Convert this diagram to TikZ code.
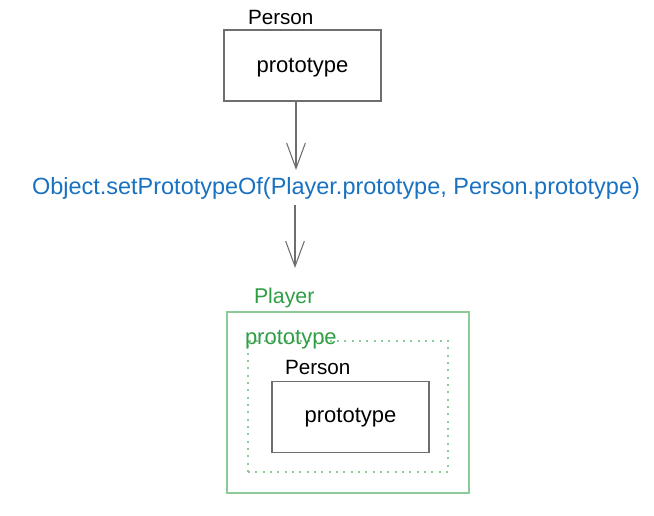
\documentclass[tikz,border=0pt]{standalone}
\usepackage{fontspec}
\setmainfont{Liberation Sans}
\usepackage{tikz}
\usetikzlibrary{arrows.meta}

\definecolor{callblue}{HTML}{1971C2}
\definecolor{objgreen}{HTML}{2F9E44}
\definecolor{boxgreen}{HTML}{8CCB99}
\definecolor{boxgray}{HTML}{6E6E6E}

\begin{document}
\begin{tikzpicture}[x=0.75pt, y=-0.75pt,
	every node/.style={inner sep=0pt, outer sep=0pt, font=\fontsize{16.5}{18}\selectfont},
	objbox/.style={draw=boxgray, line width=1pt, minimum width=117.75pt, minimum height=53.25pt},
	greenbox/.style={draw=boxgreen, line width=1pt},
	label/.style={anchor=west},
	arr/.style={draw=boxgray, line width=1pt, -{Straight Barb[length=19pt, width=14pt, line width=0.8pt]}}]
	\useasboundingbox (0,0) rectangle (654,515);

	% Person up top
	\node[objbox] (personbox) at (302.5,65.5) {};
	\node (person) at (302.5,68) {prototype};
	\node[label, font=\fontsize{15.5}{17}\selectfont] (personlbl) at (248,17) {Person};

	% the call in between
	\node[text=callblue, font=\fontsize{17.6}{19}\selectfont] (call) at (336,188) {Object.setPrototypeOf(Player.prototype, Person.prototype)};
	\coordinate (tip1) at (296,170);
	\coordinate (tip2) at (295,268);

	% Player with its prototype
	\node[greenbox, minimum width=181.5pt, minimum height=135.75pt] (playerbox) at (348,402.5) {};
	\node[greenbox, line width=1.2pt, dash pattern=on 1.5pt off 4pt, minimum width=150pt, minimum height=98.25pt] (protobox) at (348,406.5) {};
	\node[label, text=objgreen, font=\fontsize{16}{18}\selectfont] (player) at (254,298) {Player};
	\node[label, text=objgreen] (playerproto) at (245,340) {prototype};
	\node[objbox] (innerbox) at (350.5,417) {};
	\node (inner) at (350.5,418) {prototype};
	\node[label, font=\fontsize{15.5}{17}\selectfont] (innerlbl) at (285,367) {Person};

	\draw[arr] (personbox.south -| tip1) -- (tip1);
	\draw[arr] (call.south -| tip2) ++(0,6) -- (tip2);
\end{tikzpicture}
\end{document}
